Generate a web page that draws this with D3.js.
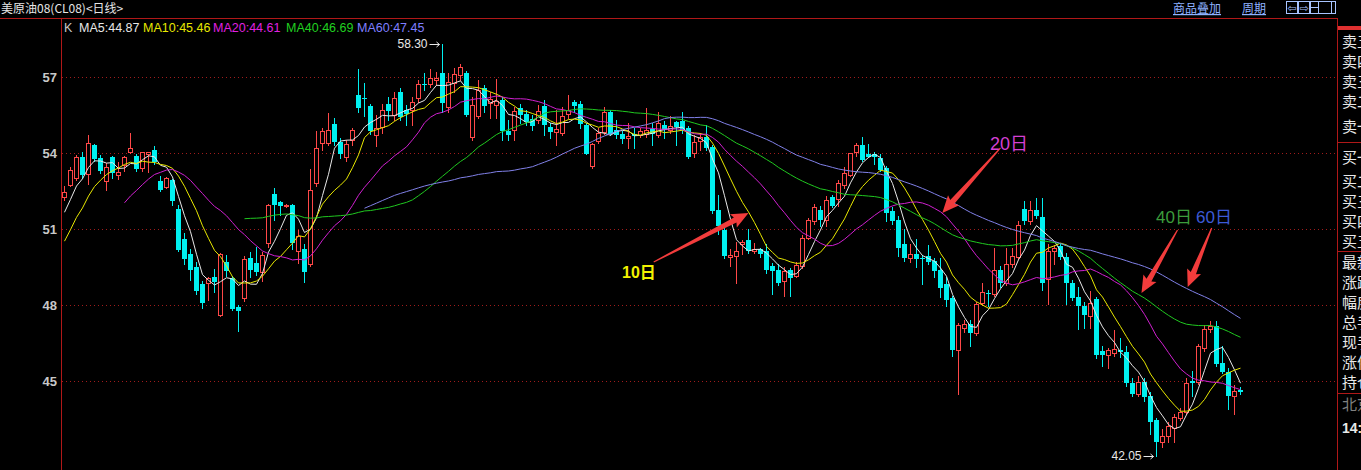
<!DOCTYPE html>
<html><head><meta charset="utf-8">
<script src="https://cdn.jsdelivr.net/npm/d3@7"></script>
<style>html,body{margin:0;padding:0;background:#000;overflow:hidden}</style>
</head><body><svg id="c" width="1361" height="470"></svg>
<script>
// ---------- data ----------
const opens=[52.26,52.74,53.00,53.86,53.17,54.31,53.81,52.91,53.84,53.13,53.54,54.02,53.90,53.40,53.98,54.10,52.91,52.64,52.94,51.80,
50.62,50.03,49.49,48.81,48.85,49.09,47.60,49.70,49.07,47.92,48.29,49.86,49.66,49.30,50.45,52.39,52.05,51.89,51.93,50.12,
50.23,49.60,52.80,54.39,54.41,55.15,54.45,53.84,54.52,56.29,56.19,55.86,54.70,55.04,55.94,55.50,56.42,55.70,55.70,56.16,
56.72,56.72,56.90,57.15,55.83,56.78,57.08,57.15,54.65,55.46,56.58,55.96,55.90,56.09,54.85,54.89,55.77,55.54,55.33,55.31,
55.86,55.04,54.81,54.78,55.54,56.03,55.94,55.11,53.47,54.49,54.81,55.63,54.91,54.76,54.59,54.76,54.72,54.76,54.94,54.72,
55.11,54.91,55.22,55.28,54.98,54.00,54.49,54.63,54.23,51.76,50.98,49.90,49.93,50.39,50.58,50.12,50.22,50.12,49.53,49.40,
48.94,49.37,49.14,49.53,50.65,51.30,51.74,51.37,52.26,52.19,52.75,53.14,54.05,54.32,53.97,53.97,53.80,53.41,51.70,51.37,
50.39,49.86,50.03,49.86,49.95,49.73,49.37,48.81,48.29,46.22,47.11,47.24,46.91,48.09,48.48,48.42,49.40,48.88,49.60,49.90,
51.79,51.30,51.74,51.48,49.03,50.12,50.32,49.90,48.88,48.33,47.98,47.56,48.22,46.19,46.02,46.10,46.22,46.15,44.91,44.48,
44.96,44.41,43.47,42.58,42.84,43.13,43.52,43.76,44.99,44.96,46.32,47.07,47.17,45.70,45.36,44.39,44.65];
const highs=[52.68,53.43,53.93,54.02,54.72,54.35,53.92,53.60,53.88,53.63,53.90,54.78,53.95,54.05,54.05,54.28,53.10,53.05,52.98,51.95,
50.85,50.20,49.70,48.95,49.10,49.44,50.05,49.99,49.15,48.00,49.95,50.10,50.30,50.10,52.00,52.62,52.10,51.99,52.00,50.95,
50.40,53.37,54.85,54.99,55.57,55.37,54.60,54.50,55.00,57.30,56.78,55.95,55.50,55.95,56.20,56.40,56.55,55.90,56.20,56.90,
57.15,57.30,57.20,58.30,57.15,57.35,57.51,57.25,56.22,56.90,56.70,56.40,56.91,56.20,55.30,55.80,55.95,55.70,55.50,55.90,
56.10,55.20,55.70,55.80,56.29,56.10,56.05,55.20,54.40,55.00,55.80,55.70,55.30,54.85,55.20,55.00,55.00,55.77,55.20,55.60,
55.25,55.45,55.25,55.60,55.05,54.70,54.80,55.11,54.30,52.35,51.10,50.20,50.50,50.55,51.00,50.45,50.25,50.40,49.65,49.60,
49.50,49.45,49.70,50.75,51.45,52.00,51.90,52.30,52.35,52.95,53.45,54.00,54.40,54.65,54.35,54.05,53.95,53.50,51.85,51.50,
51.00,50.40,50.60,49.98,50.35,49.85,49.85,49.10,48.35,47.30,47.40,47.40,48.10,48.85,48.60,50.25,49.55,50.25,50.25,51.30,
52.09,52.09,52.22,52.22,50.40,50.35,50.40,50.05,49.00,48.70,48.10,48.55,48.30,46.40,46.30,47.00,46.70,46.40,45.10,45.20,
45.10,44.55,43.55,43.10,43.40,43.70,43.95,45.10,45.40,46.45,47.20,47.37,47.37,46.40,45.50,44.85,44.75];
const lows=[52.16,52.71,52.94,53.00,52.79,53.67,53.21,52.52,53.00,52.97,53.30,54.00,53.30,53.30,53.25,53.55,52.50,52.60,51.93,50.15,
49.60,49.00,48.45,47.90,48.19,48.50,47.58,49.14,47.80,46.97,48.15,49.10,49.20,48.95,50.30,51.37,51.55,51.85,50.20,49.67,
48.90,49.55,52.70,54.13,54.30,54.30,53.80,53.70,54.30,55.60,55.45,54.75,54.26,54.80,55.30,55.30,55.30,55.10,55.10,56.00,
56.48,56.60,56.70,55.63,55.60,56.40,56.90,55.45,54.52,55.40,55.60,55.40,55.40,54.52,54.52,54.50,55.20,55.10,54.90,55.20,
54.70,54.60,54.30,54.70,55.40,55.60,55.00,53.95,53.40,54.40,54.75,54.70,54.60,54.40,54.19,54.20,54.65,54.65,54.32,54.65,
54.60,54.80,54.30,54.80,53.80,53.85,54.10,54.10,51.65,50.80,49.85,49.53,48.88,50.00,50.05,50.05,49.90,49.25,48.42,48.80,
48.35,48.35,49.10,49.45,50.60,51.20,51.10,51.10,51.85,51.90,52.60,53.10,53.90,53.70,53.85,53.55,53.30,51.30,51.20,49.95,
49.75,49.70,49.50,48.81,49.60,49.10,48.30,47.95,45.99,44.48,46.95,46.40,46.80,48.00,47.95,48.35,48.70,48.80,49.50,49.80,
51.20,51.20,51.45,48.60,48.05,49.60,49.80,48.02,48.20,47.04,47.10,47.10,45.90,45.60,45.50,46.00,45.95,44.80,44.40,44.40,
44.20,42.90,42.05,42.40,42.60,42.60,43.45,43.70,44.40,44.90,46.20,46.95,45.60,45.30,43.89,43.69,44.50];
const closes=[52.45,53.34,53.84,53.13,54.39,53.76,53.29,53.44,53.21,53.25,53.84,54.19,53.37,54.02,54.03,53.63,52.52,53.00,52.09,50.19,
49.82,49.37,48.55,48.06,49.07,48.90,50.02,49.33,47.83,47.76,49.80,49.40,49.30,49.98,51.96,51.93,51.89,51.96,50.45,50.71,
49.30,52.55,54.19,54.87,54.89,54.45,53.96,54.36,54.91,55.77,56.12,54.85,55.00,55.70,55.66,56.16,55.41,55.54,56.03,56.72,
56.68,56.97,56.97,55.96,56.81,57.12,57.38,55.50,55.90,56.49,55.86,56.12,56.05,54.85,54.72,55.67,55.50,55.24,55.08,55.67,
55.11,54.81,54.95,55.46,55.70,55.86,55.15,53.97,54.36,54.78,55.63,54.76,54.72,54.56,54.68,54.68,54.85,54.91,54.76,55.18,
54.91,55.07,55.04,54.91,53.84,54.45,54.63,54.19,51.70,51.11,49.93,49.99,50.15,50.48,50.12,50.22,50.03,49.40,49.33,48.88,
49.33,49.07,49.56,50.65,51.37,51.87,51.37,52.16,51.92,52.81,53.21,54.00,54.32,53.73,53.86,53.86,53.34,51.63,51.30,50.26,
49.86,50.03,49.80,49.80,49.69,49.33,48.68,48.19,46.22,47.20,47.24,46.91,48.02,48.51,48.42,49.40,48.85,49.60,49.93,51.15,
51.30,51.76,51.53,48.88,50.12,50.26,49.90,48.88,48.29,47.96,47.59,48.09,46.02,46.02,46.22,46.25,46.15,44.91,44.48,44.96,
44.35,43.39,42.58,42.84,43.23,43.56,43.76,44.94,44.94,46.38,47.07,47.17,45.66,45.36,44.39,44.61,44.55];
const priorCloses=[48.80,49.00,49.40,49.70,50.00,50.80,51.20,51.70,52.15];
const yTicks=[45,48,51,54,57];
const maPeriods=[5,10,20,40,60];
const maLegendValues=["44.87","45.46","44.61","46.69","47.45"];
const titleText="美原油08(CL08)<日线>";
const extremeHigh={index:63,value:"58.30"};
const extremeLow={index:182,value:"42.05"};
const arrowNotes=[
  {label:"10日",tail:[98.2,49.70],tip:[114,51.63]},
  {label:"20日",tail:[156,54.20],tip:[146.3,51.63]},
  {label:"40日",tail:[185.5,50.96],tip:[179.5,48.47]},
  {label:"60日",tail:[191.2,51.04],tip:[187.2,48.71]}
];
const panelLabels=["卖五","卖四","卖三","卖二","卖一","买一","买二","买三","买四","买五","最新","涨跌","幅度","总手","现手","涨停","持仓"];

// ---------- styles / layout ----------
const W=1361,H=470;
const upColor="#ff4848", downColor="#00f0f0";
const maColors=["#e8e8e8","#e8e800","#d020d0","#20c820","#8080e8"];
const legendColors=["#e8e8e8","#e8e800","#e020e0","#20d020","#7f7fff"];
const legendX=[79,143,213,286,357];
const noteColors=["#f2f200","#d440d4","#3c9c3c","#3c5ad6"];
const frame="#b01818";
const numFont="'Liberation Sans',Arial,'Noto Sans CJK SC',sans-serif";
const cjkFont="'Noto Sans CJK SC','Liberation Sans',sans-serif";

const svg=d3.select("#c");
svg.append("rect").attr("width",W).attr("height",H).attr("fill","#000");

const N=closes.length;
const x=d3.scaleBand().domain(d3.range(N)).range([61,61+N*6]).padding(0);
const xc=i=>x(i)+3.5;
const xi=v=>x(0)+3.5+v*x.step();
const y=d3.scaleLinear().domain([45,57]).range([381,77]);

// frame
svg.append("line").attr("x1",0).attr("x2",1337).attr("y1",18.5).attr("y2",18.5).attr("stroke",frame);
svg.append("line").attr("x1",61.5).attr("x2",61.5).attr("y1",18).attr("y2",H).attr("stroke",frame);
svg.append("line").attr("x1",1337.5).attr("x2",1337.5).attr("y1",18).attr("y2",H).attr("stroke",frame);

// title
svg.append("text").attr("x",1).attr("y",13).attr("fill","#e6e6e6").attr("font-size",12)
  .attr("font-family",cjkFont).text(titleText);

// top right links
[["商品叠加",1173],["周期",1242]].forEach(([t,px])=>{
  svg.append("text").attr("x",px).attr("y",13).attr("fill","#8fb2ff").attr("font-size",12)
    .attr("font-family",cjkFont).attr("text-decoration","underline").text(t);
});
const boxes=[[1286,11,"⇦"],[1298,11,"⇨"],[1310,25,""]];
boxes.forEach(([bx,bw,t])=>{
  svg.append("rect").attr("x",bx+0.5).attr("y",1.5).attr("width",bw).attr("height",12).attr("fill","none").attr("stroke","#a8c4ff");
  if(t) svg.append("text").attr("x",bx+bw/2+0.5).attr("y",11.5).attr("text-anchor","middle").attr("fill","#a8c4ff")
    .attr("font-size",11).attr("font-family","DejaVu Sans").text(t);
});
svg.append("line").attr("x1",1318.5).attr("x2",1318.5).attr("y1",2).attr("y2",13).attr("stroke","#a8c4ff");
svg.append("line").attr("x1",1311).attr("x2",1318).attr("y1",7.5).attr("y2",7.5).attr("stroke","#a8c4ff");
svg.append("line").attr("x1",1331.5).attr("x2",1331.5).attr("y1",2).attr("y2",13).attr("stroke","#a8c4ff");

// grid + y labels
const g=svg.append("g");
g.selectAll("line.grid").data(yTicks).join("line").attr("class","grid")
  .attr("x1",62).attr("x2",1337).attr("y1",d=>Math.round(y(d))+0.5).attr("y2",d=>Math.round(y(d))+0.5)
  .attr("stroke","#a01c1c").attr("stroke-dasharray","1,3");
g.selectAll("text.yl").data(yTicks).join("text").attr("class","yl")
  .attr("x",57).attr("y",d=>y(d)+5).attr("text-anchor","end").attr("fill","#c8c8c8")
  .attr("font-size",13).attr("font-weight","bold").attr("font-family",numFont).text(d=>d);

// legend
svg.append("text").attr("x",64).attr("y",32).attr("fill","#c8c8c8").attr("font-size",12.5).attr("font-family",numFont).text("K");
maPeriods.forEach((p,k)=>{
  svg.append("text").attr("x",legendX[k]).attr("y",32).attr("fill",legendColors[k]).attr("font-size",12.5)
    .attr("font-family",numFont).text(`MA${p}:${maLegendValues[k]}`);
});

// candles
const data=d3.range(N).map(i=>({i,o:opens[i],h:highs[i],l:lows[i],c:closes[i]}));
const cg=svg.append("g");
cg.selectAll("line.wick").data(data).join("line").attr("class","wick")
  .attr("x1",d=>xc(d.i)).attr("x2",d=>xc(d.i))
  .attr("y1",d=>Math.round(y(d.h))).attr("y2",d=>Math.round(y(d.l))+1)
  .attr("stroke",d=>d.c>=d.o?upColor:downColor);
cg.selectAll("rect.body").data(data).join("rect").attr("class","body")
  .each(function(d){
    const up=d.c>=d.o;
    const top=Math.round(y(Math.max(d.o,d.c))), bot=Math.round(y(Math.min(d.o,d.c)));
    const s=d3.select(this);
    if(up){
      s.attr("x",x(d.i)+1.5).attr("y",top+0.5).attr("width",4).attr("height",Math.max(bot-top,0.01))
       .attr("fill","#000").attr("stroke",upColor).attr("stroke-width",1);
    }else{
      s.attr("x",x(d.i)+1).attr("y",top).attr("width",5).attr("height",Math.max(bot-top,1))
       .attr("fill",downColor);
    }
  });

// moving averages
const allCloses=priorCloses.concat(closes);
const off=priorCloses.length;
maPeriods.forEach((p,k)=>{
  const pts=[];
  for(let i=0;i<N;i++){
    const idx=i+off;
    if(idx>=p-1){
      pts.push([i,d3.mean(allCloses.slice(idx-p+1,idx+1))]);
    }
  }
  svg.append("path").datum(pts).attr("fill","none").attr("stroke",maColors[k]).attr("stroke-width",1)
    .attr("d",d3.line().x(d=>xc(d[0])).y(d=>y(d[1])));
});

// extreme labels
function extreme(idx,val,price){
  const px=xc(idx), py=y(price);
  svg.append("text").attr("x",px-15).attr("y",py+4).attr("text-anchor","end").attr("fill","#e8e8e8")
    .attr("font-size",12).attr("font-family",numFont).text(val);
  svg.append("line").attr("x1",px-13).attr("x2",px-3).attr("y1",Math.round(py)+0.5).attr("y2",Math.round(py)+0.5).attr("stroke","#e8e8e8");
  svg.append("path").attr("d",`M${px-3},${Math.round(py)+0.5} l-3,-2.5 M${px-3},${Math.round(py)+0.5} l-3,2.5`).attr("stroke","#e8e8e8").attr("fill","none");
}
extreme(extremeHigh.index,extremeHigh.value,highs[extremeHigh.index]);
extreme(extremeLow.index,extremeLow.value,lows[extremeLow.index]);

// red arrows with labels
arrowNotes.forEach((a,k)=>{
  const x1=xi(a.tail[0]),y1=y(a.tail[1]),x2=xi(a.tip[0]),y2=y(a.tip[1]);
  const dx=x2-x1,dy=y2-y1,L=Math.hypot(dx,dy),ux=dx/L,uy=dy/L,nx=-uy,ny=ux;
  const P=(t,w)=>[x1+ux*t+nx*w,y1+uy*t+ny*w];
  const poly=[P(0,-0.6),P(L-15,-2.8),P(L-17,-7.5),P(L,0),P(L-17,7.5),P(L-15,2.8),P(0,0.6)];
  svg.append("polygon").attr("points",poly.map(p=>p.join(",")).join(" ")).attr("fill","#f23c3c");
});
const noteLabelPos=[[622,278,16,"bold"],[990,150,18,"normal"],[1156,223,17,"normal"],[1196,223,17,"normal"]];
arrowNotes.forEach((a,k)=>{
  const [lx,ly,fs,fw]=noteLabelPos[k];
  svg.append("text").attr("x",lx).attr("y",ly).attr("fill",noteColors[k]).attr("font-size",fs)
    .attr("font-weight",fw).attr("font-family",numFont).text(a.label);
});

// right panel
svg.append("rect").attr("x",1338).attr("y",26).attr("width",23).attr("height",4).attr("fill","#e03030");
const panelY=[41,61,81,101,126,157,181,201,221,241,262,282,302,322,342,362,382];
panelLabels.forEach((t,k)=>{
  svg.append("text").attr("x",1342).attr("y",panelY[k]+6).attr("fill","#e8e8e8").attr("font-size",15)
    .attr("font-family",cjkFont).text(t);
});
[142,251,393].forEach(sy=>svg.append("line").attr("x1",1338).attr("x2",W).attr("y1",sy+0.5).attr("y2",sy+0.5).attr("stroke",frame));
svg.append("text").attr("x",1342).attr("y",410).attr("fill","#808080").attr("font-size",15).attr("font-family",cjkFont).text("北京");
svg.append("text").attr("x",1342).attr("y",433).attr("fill","#e8e8e8").attr("font-size",14).attr("font-weight","bold").attr("font-family",numFont).text("14:");
</script></body></html>
